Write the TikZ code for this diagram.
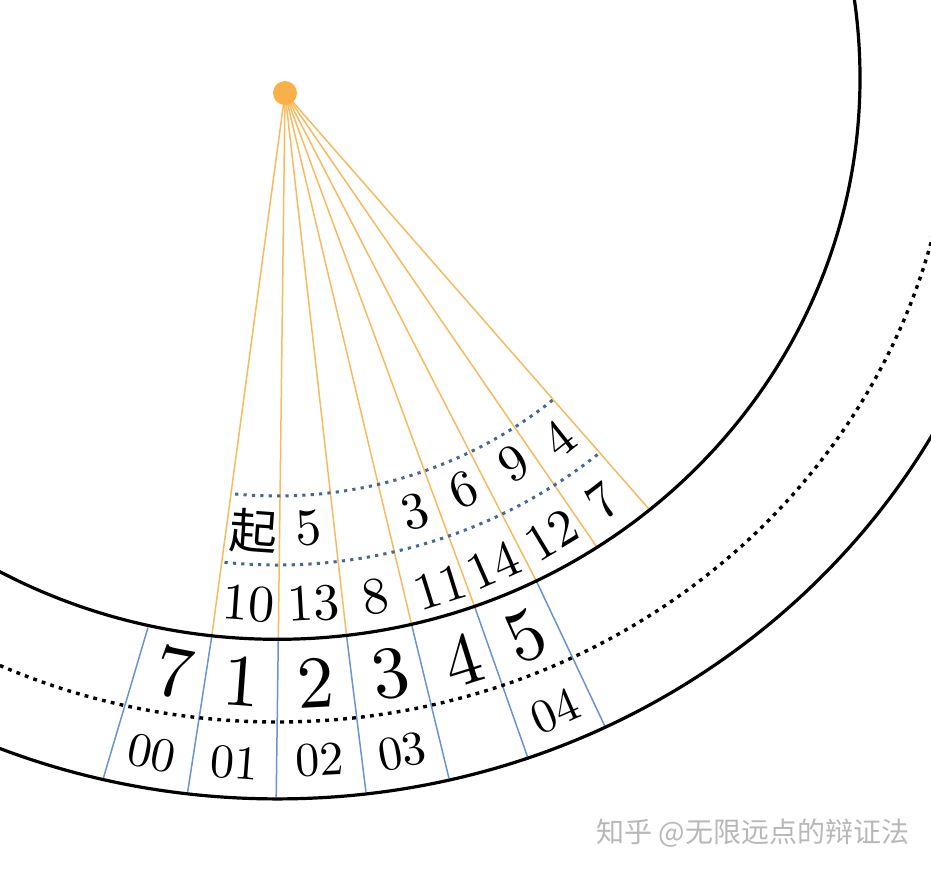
\documentclass[tikz,border=0pt]{standalone}
\usepackage{fontspec}
\newfontfamily\cjk{Noto Sans CJK SC}
\newfontfamily\lmten{lmroman10-regular.otf}
\definecolor{orng}{RGB}{250,176,72}
\definecolor{orngline}{RGB}{246,186,95}
\definecolor{bline}{RGB}{104,148,212}
\definecolor{bdot}{RGB}{70,104,150}
\begin{document}
\begin{tikzpicture}[x=1pt,y=-1pt,
  ring/.style={line width=3.2pt},
  blackdots/.style={line width=3.4pt, dash pattern=on 3.8pt off 5.2pt},
  bluedots/.style={bdot, line width=3pt, dash pattern=on 3.2pt off 5.2pt},
  ray/.style={orngline, line width=1.5pt},
  bray/.style={bline, line width=1.5pt},
  big/.style={font=\lmten\fontsize{74}{74}\selectfont, inner sep=0pt},
  mid/.style={font=\lmten\fontsize{52}{52}\selectfont, inner sep=0pt},
  sml/.style={font=\lmten\fontsize{48}{48}\selectfont, inner sep=0pt}]
\useasboundingbox (0,0) rectangle (931,871);
\clip (0,0) rectangle (931,871);

% centre of the rings and apex of the rays
\coordinate (C) at (277.3,78);
\coordinate (Oc) at (285,93);

% ray ends on the inner ring
\coordinate (r1) at (211.7,636.7);
\coordinate (r2) at (278.3,638.3);
\coordinate (r3) at (346.7,636.7);
\coordinate (r4) at (411.7,625);
\coordinate (r5) at (475,607.7);
\coordinate (r6) at (536.7,581.7);
\coordinate (r7) at (596.7,546.7);
\coordinate (r8) at (648.3,508.3);
\coordinate (t1) at (148,627.5);
% ends on the outer ring
\coordinate (b1) at (103.3,778.3);
\coordinate (b2) at (187.7,791.7);
\coordinate (b3) at (276.2,797.3);
\coordinate (b4) at (365.9,791.7);
\coordinate (b5) at (449,778.3);
\coordinate (b6) at (527.5,756.7);
\coordinate (b7) at (604.8,726);

% orange rays
\foreach \i in {1,...,8} \draw[ray] (Oc) -- (r\i);

% blue dividers in the outer band
\draw[bray] (t1) -- (b1);
\draw[bray] (r1) -- (b2);
\draw[bray] (r2) -- (b3);
\draw[bray] (r3) -- (b4);
\draw[bray] (r4) -- (b5);
\draw[bray] (r5) -- (b6);
\draw[bray] (r6) -- (b7);

% blue dotted arcs
\draw[bluedots] (C) ++(-95.6:432pt and 418pt) arc[start angle=-95.6, end angle=-50.4, x radius=432pt, y radius=418pt];
\draw[bluedots] (C) ++(-96:505pt and 487pt) arc[start angle=-96, end angle=-50.4, x radius=505pt, y radius=487pt];

% rings
\draw[ring] (C) ellipse [x radius=582.7pt, y radius=561.3pt];
\draw[blackdots] (C) ellipse [x radius=676pt, y radius=644pt];
\draw[ring] (C) ellipse [x radius=753.6pt, y radius=720.9pt];

% apex dot
\node[circle, fill=orng, minimum size=24pt, inner sep=0pt] (O) at (Oc) {};

% big digits
\node[big, rotate=-10.8] (g7) at (174.5,671.7) {7};
\node[big, rotate=-4.2]  (g1) at (241.7,681.7) {1};
\node[big, rotate=3.0]   (g2) at (315.9,683.3) {2};
\node[big, rotate=10.3]  (g3) at (390,673.3) {3};
\node[big, rotate=17.4]  (g4) at (462.4,660) {4};
\node[big, rotate=23.9]  (g5) at (526.2,636.7) {5};

% small outer labels
\node[sml, rotate=-11.4] (s00) at (152,753.3) {00};
\node[sml, rotate=-4.3]  (s01) at (234.8,763.3) {01};
\node[sml, rotate=2.9]   (s02) at (319.3,760) {02};
\node[sml, rotate=10.1]  (s03) at (402,751.7) {03};
\node[sml, rotate=23.7]  (s04) at (555.5,711) {04};

% inner lower row
\node[mid, rotate=-4.1] (i10) at (248.3,603.3) {10};
\node[mid, rotate=3.2]  (i13) at (313.3,603.3) {13};
\node[mid, rotate=10.1] (i8)  at (375,596.7) {8};
\node[mid, rotate=17.4] (i11) at (440,586.7) {11};
\node[mid, rotate=23.8] (i14) at (493.3,565) {14};
\node[mid, rotate=31.1] (i12) at (551.7,535) {12};
\node[mid, rotate=37.8] (i7)  at (602.5,501) {7};

% inner upper row
\node[font=\cjk\fontsize{48}{48}\selectfont, inner sep=0pt, rotate=-4.1] (qi) at (253.3,531.7) {起};
\node[mid, rotate=3.1]  (u5) at (308.3,528.3) {5};
\node[mid, rotate=17.2] (u3) at (415,511.7) {3};
\node[mid, rotate=24.2] (u6) at (463.3,490) {6};
\node[mid, rotate=31.7] (u9) at (513.3,463.3) {9};
\node[mid, rotate=38.4] (u4) at (558.3,438.3) {4};

% watermark
\node[font=\cjk\fontsize{28}{28}\selectfont, text=black!28, inner sep=0pt] (wm) at (753,833) {知乎 @无限远点的辩证法};
\end{tikzpicture}
\end{document}
